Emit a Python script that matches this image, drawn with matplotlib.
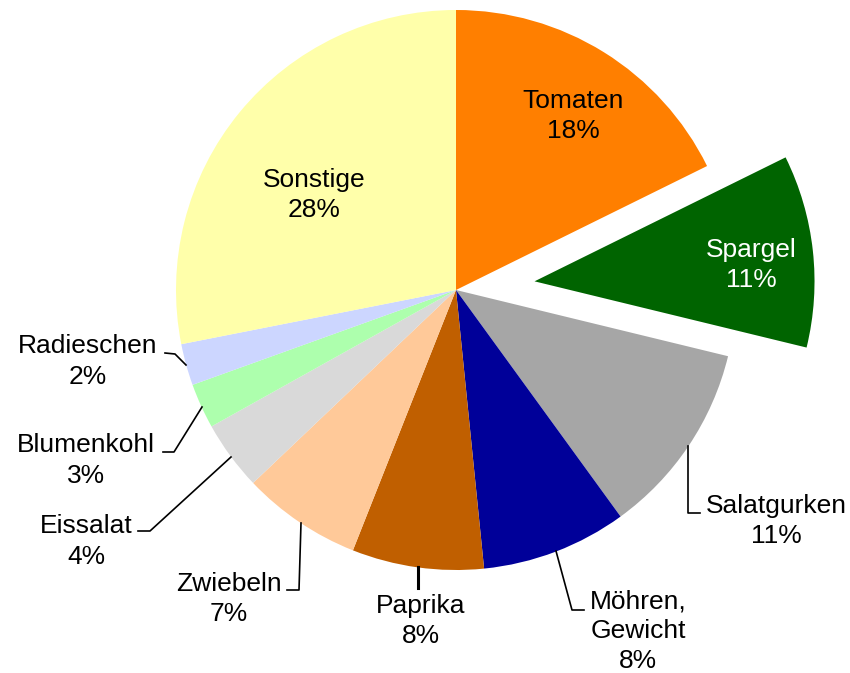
import matplotlib
matplotlib.use('Agg')
import matplotlib.pyplot as plt

plt.rcParams['font.family'] = ['Liberation Sans', 'DejaVu Sans']

# Data (shares in %, clockwise from 12 o'clock)
names = ['Tomaten', 'Spargel', 'Salatgurken', 'Möhren,\nGewicht', 'Paprika',
         'Zwiebeln', 'Eissalat', 'Blumenkohl', 'Radieschen', 'Sonstige']
shares = [17.7, 11.1, 11.2, 8.4, 7.6, 6.9, 4.0, 2.6, 2.4, 28.1]
colors = ['#ff7f00', '#006400', '#a6a6a6', '#000099', '#c05f00',
          '#ffc999', '#d9d9d9', '#adffad', '#ccd6ff', '#ffffaa']

W, H = 850, 673
cx, cy, r = 456, 290, 280   # pixel coords, y from top

fig = plt.figure(figsize=(W / 100, H / 100), dpi=100)
ax = fig.add_axes([0, 0, 1, 1])
ax.set_xlim(0, W)
ax.set_ylim(0, H)
ax.set_aspect('equal')
ax.axis('off')

explode = [79 if n == 'Spargel' else 0 for n in names]
ax.pie(shares, colors=colors, startangle=90, counterclock=False,
       radius=r, center=(cx, H - cy), explode=explode,
       wedgeprops=dict(linewidth=0))
ax.set_xlim(0, W)
ax.set_ylim(0, H)

# label placement: (x center, first baseline y from top, line step), text colour
label_pos = {
    'Tomaten': (573, 107.7, 30.7, 'black'),
    'Spargel': (751, 256.7, 30.7, 'white'),
    'Salatgurken': (776, 512.7, 30.7, 'black'),
    'Möhren,\nGewicht': (638, 608.5, 29.8, 'black'),
    'Paprika': (421, 612.7, 30.7, 'black'),
    'Zwiebeln': (229, 590.7, 30.7, 'black'),
    'Eissalat': (86, 533.3, 30.7, 'black'),
    'Blumenkohl': (86, 452.3, 30.7, 'black'),
    'Radieschen': (87.5, 353.3, 30.7, 'black'),
    'Sonstige': (314, 186.7, 30.7, 'black'),
}
for name, share in zip(names, shares):
    x, y0, step, col = label_pos[name]
    lines = name.split('\n') + ['%.0f%%' % share]
    for i, s in enumerate(lines):
        ax.text(x, H - (y0 + i * step), s, ha='center', va='baseline',
                fontsize=19, color=col)

# leader lines (pixel coords, y from top)
leaders = [
    ([688, 688, 700], [446, 513, 513], 1.2),
    ([556, 572, 584], [551, 610, 610], 1.2),
    ([418, 418], [567, 588], 2.2),
    ([301, 299, 287], [523, 590, 590], 1.2),
    ([231, 150, 138], [457, 531, 531], 1.2),
    ([202, 174, 163], [407, 452, 452], 1.2),
    ([186, 175, 165], [365, 354, 353], 1.2),
]
for xs, ys, lw in leaders:
    ax.plot(xs, [H - y for y in ys], color='black', lw=lw)

fig.savefig('out.png', dpi=100)
